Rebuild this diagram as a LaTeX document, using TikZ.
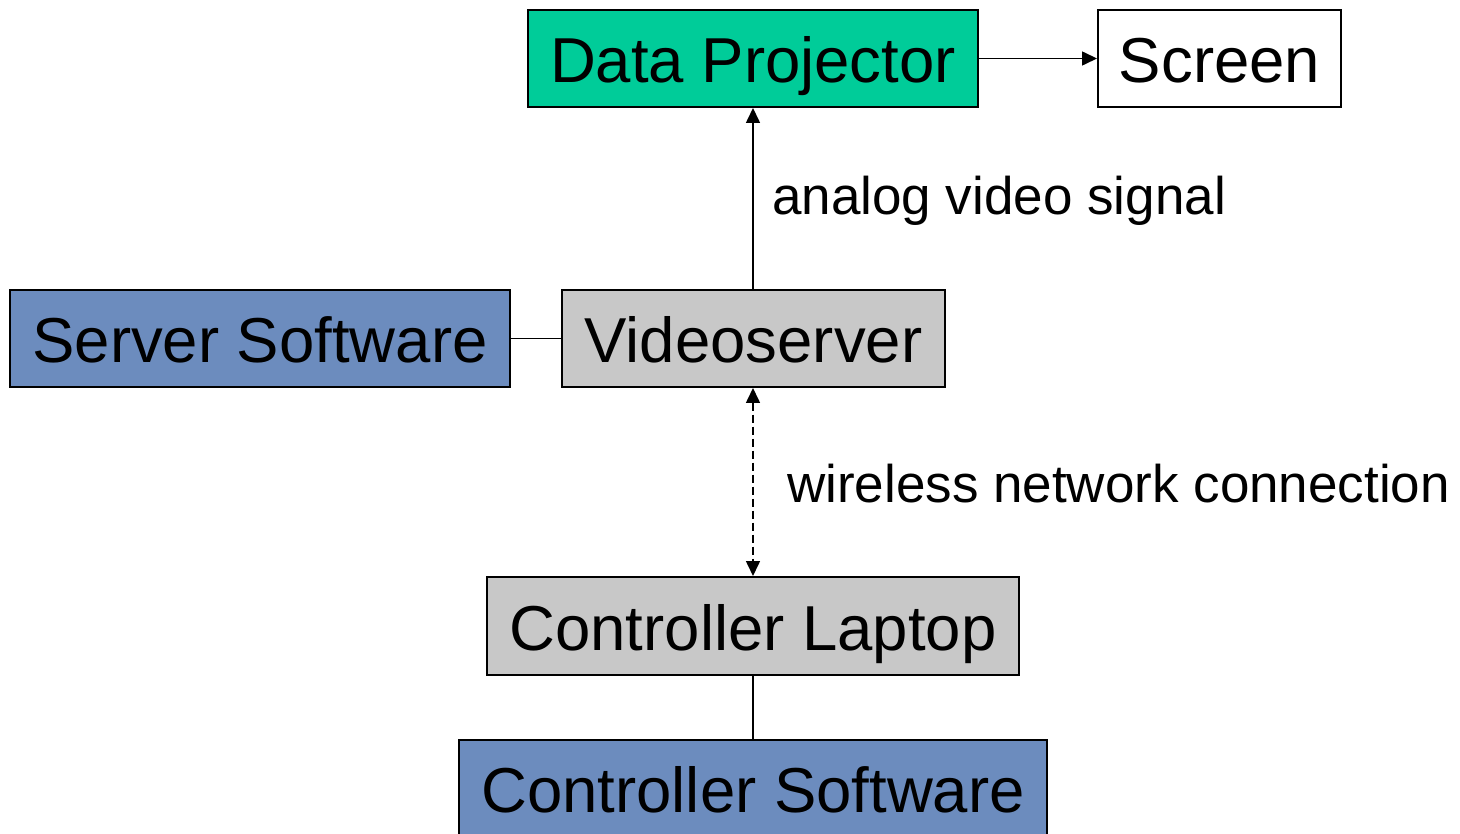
\documentclass[tikz,border=0pt]{standalone}
\usepackage{fontspec}
\setmainfont{Liberation Sans}
\usetikzlibrary{arrows.meta}
\definecolor{projgreen}{RGB}{0,204,153}
\definecolor{boxgray}{RGB}{200,200,200}
\definecolor{swblue}{RGB}{108,140,190}
\begin{document}
\begin{tikzpicture}[x=1pt,y=-1pt,
  box/.style={draw=black,line width=2pt,inner sep=0pt,font=\fontsize{63.5}{70}\selectfont,text height=48pt,text depth=0pt},
  lbl/.style={font=\fontsize{53}{60}\selectfont,inner sep=0pt,anchor=base west},
  conn/.style={line width=1.6pt},
  arr/.style={conn,-{Triangle[length=15pt,width=14pt]}}]
\clip (0,0) rectangle (1460,834);
\fill[white] (0,0) rectangle (1460,834);
\node[box,fill=projgreen,minimum width=450pt,minimum height=97pt] (dp) at (753,58.5) {Data Projector};
\node[box,fill=white,minimum width=243pt,minimum height=97pt] (scr) at (1219.5,58.5) {Screen};
\node[box,fill=boxgray,minimum width=383pt,minimum height=97pt] (vs) at (753.5,338.5) {Videoserver};
\node[box,fill=swblue,minimum width=500pt,minimum height=97pt] (ss) at (260,338.5) {Server Software};
\node[box,fill=boxgray,minimum width=532pt,minimum height=98pt] (cl) at (753,626) {Controller Laptop};
\node[box,fill=swblue,minimum width=588pt,minimum height=97pt] (cs) at (753,788.5) {Controller Software};
\draw[arr] (dp.east) -- (scr.west);
\draw[arr] (vs.north -| dp.south) -- (dp.south);
\draw[conn] (ss.east) -- (vs.west);
\draw[conn,dashed,dash pattern=on 8pt off 4pt,{Triangle[length=15pt,width=14pt]}-{Triangle[length=15pt,width=14pt]}] (vs.south -| cl.north) -- (cl.north);
\draw[conn] (cl.south) -- (cs.north);
\node[lbl] (l1) at (772,215) {analog video signal};
\node[lbl] (l2) at (787,502) {wireless network connection};
\end{tikzpicture}
\end{document}
